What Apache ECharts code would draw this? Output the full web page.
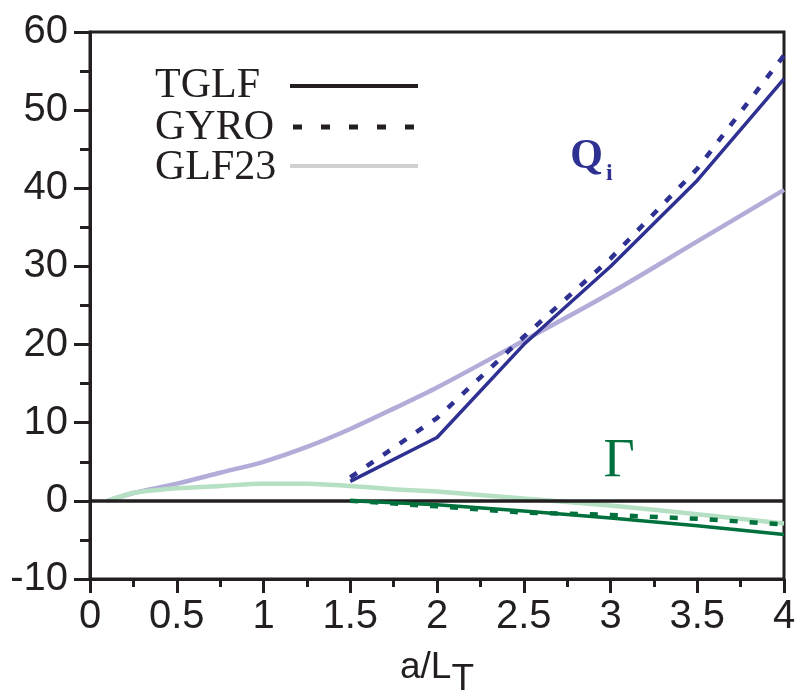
<!DOCTYPE html>
<html>
<head>
<meta charset="utf-8">
<script src="https://cdn.jsdelivr.net/npm/echarts@6/dist/echarts.min.js"></script>
<style>
html,body{margin:0;padding:0;background:#fff;}
#main{width:798px;height:696px;}
</style>
</head>
<body>
<div id="main"></div>
<script>
// x = a/L_T
var glfX = [0.1, 0.25, 0.5, 0.75, 1, 1.25, 1.5, 1.75, 2, 2.5, 3, 3.5, 4];
var glfQi = [0, 1, 2.2, 3.6, 5, 6.9, 9.2, 11.8, 14.5, 20.5, 26.6, 33.2, 39.8];
var glfGamma = [0, 1, 1.6, 1.9, 2.2, 2.2, 1.9, 1.5, 1.2, 0.3, -0.6, -1.7, -2.9];

var runX = [1.5, 2, 2.5, 3, 3.5, 4];
var tglfQi = [2.5, 8.1, 20, 30, 41, 54];
var gyroQi = [3, 10.6, 21, 31, 42.5, 57];
var tglfGamma = [0, -0.5, -1.3, -2.2, -3.2, -4.3];
var gyroGamma = [0, -0.7, -1.5, -1.8, -2.3, -3];

var legendNames = ['TGLF', 'GYRO', 'GLF23'];

function pairs(xs, ys) {
    var out = [];
    for (var i = 0; i < xs.length; i++) out.push([xs[i], ys[i]]);
    return out;
}

var tickFont = '"Liberation Sans",Arial,sans-serif';
var serifFont = '"Liberation Serif","Times New Roman",serif';
var ink = '#231f20';

var chart = echarts.init(document.getElementById('main'));

var option = {
    animation: false,
    grid: {
        left: 90, right: 14, top: 32, bottom: 117,
        outerBoundsMode: 'none', containLabel: false,
        show: true, borderColor: ink, borderWidth: 3, backgroundColor: 'transparent'
    },
    xAxis: {
        type: 'value', min: 0, max: 4, interval: 0.5,
        name: '{a|a/L}{s|T}', nameLocation: 'middle', nameGap: 58,
        nameTextStyle: {
            rich: {
                a: {fontFamily: tickFont, fontSize: 37, color: ink},
                s: {fontFamily: tickFont, fontSize: 37, color: ink, padding: [24, 0, 0, 0]}
            }
        },
        axisLine: {onZero: false, lineStyle: {color: ink, width: 3}},
        axisTick: {length: 14, lineStyle: {color: ink, width: 3}},
        minorTick: {show: true, splitNumber: 2, length: 8, lineStyle: {color: ink, width: 3}},
        splitLine: {show: false},
        axisLabel: {
            fontFamily: tickFont, fontSize: 40, color: ink, margin: 18,
            formatter: function (v) { return String(v); }
        }
    },
    yAxis: {
        type: 'value', min: -10, max: 60, interval: 10,
        axisLine: {onZero: false, lineStyle: {color: ink, width: 3}},
        axisTick: {length: 16, lineStyle: {color: ink, width: 3}},
        minorTick: {show: true, splitNumber: 2, length: 10, lineStyle: {color: ink, width: 3}},
        splitLine: {show: false},
        axisLabel: {fontFamily: tickFont, fontSize: 40, color: ink, margin: 22}
    },
    series: [
        {
            type: 'line', data: pairs(glfX, glfQi), symbol: 'none', smooth: 0.3,
            lineStyle: {color: '#b1acd8', width: 4.5}, z: 2
        },
        {
            type: 'line', data: pairs(glfX, glfGamma), symbol: 'none', smooth: 0.3,
            lineStyle: {color: '#b5e0c3', width: 4.5}, z: 2
        },
        {
            type: 'line', data: pairs(runX, tglfQi), symbol: 'none',
            lineStyle: {color: '#2e3192', width: 3.5}, z: 4,
            markPoint: {
                symbol: 'circle', symbolSize: 0,
                data: [{
                    coord: [2.89, 44],
                    label: {
                        show: true, formatter: '{q|Q}{i|i}',
                        rich: {
                            q: {fontFamily: serifFont, fontWeight: 'bold', fontSize: 42, color: '#2e3192'},
                            i: {fontFamily: serifFont, fontWeight: 'bold', fontSize: 24, color: '#2e3192', padding: [34, 0, 0, 3]}
                        }
                    }
                }]
            }
        },
        {
            type: 'line', data: pairs(runX, gyroQi), symbol: 'none',
            lineStyle: {color: '#2e3192', width: 4.5, type: [8, 12]}, z: 4
        },
        {
            type: 'line', data: pairs(runX, tglfGamma), symbol: 'none',
            lineStyle: {color: '#00703c', width: 3.5}, z: 4,
            markPoint: {
                symbol: 'circle', symbolSize: 0,
                data: [{
                    coord: [3.05, 5.0],
                    label: {
                        show: true, formatter: 'Γ',
                        fontFamily: serifFont, fontSize: 54, color: '#00703c'
                    }
                }]
            },
            markLine: {
                silent: true, symbol: 'none', label: {show: false},
                lineStyle: {color: ink, width: 3.5, type: 'solid'},
                data: [{yAxis: 0}], z: 3
            }
        },
        {
            type: 'line', data: pairs(runX, gyroGamma), symbol: 'none',
            lineStyle: {color: '#00703c', width: 4.5, type: [8, 12]}, z: 4
        }
    ],
    graphic: [
        {type: 'text', x: 155, y: 86, style: {text: legendNames[0], font: '42px ' + serifFont, fill: ink, verticalAlign: 'middle'}},
        {type: 'text', x: 155, y: 128, style: {text: legendNames[1], font: '42px ' + serifFont, fill: ink, verticalAlign: 'middle'}},
        {type: 'text', x: 155, y: 168, style: {text: legendNames[2], font: '42px ' + serifFont, fill: ink, verticalAlign: 'middle'}},
        {type: 'line', shape: {x1: 290, y1: 86, x2: 418, y2: 86}, style: {stroke: ink, lineWidth: 4}},
        {type: 'line', shape: {x1: 293, y1: 127, x2: 418, y2: 127}, style: {stroke: ink, lineWidth: 5, lineDash: [9, 19]}},
        {type: 'line', shape: {x1: 290, y1: 166, x2: 418, y2: 166}, style: {stroke: '#d0d0d0', lineWidth: 4}}
    ]
};

chart.setOption(option);
</script>
</body>
</html>
